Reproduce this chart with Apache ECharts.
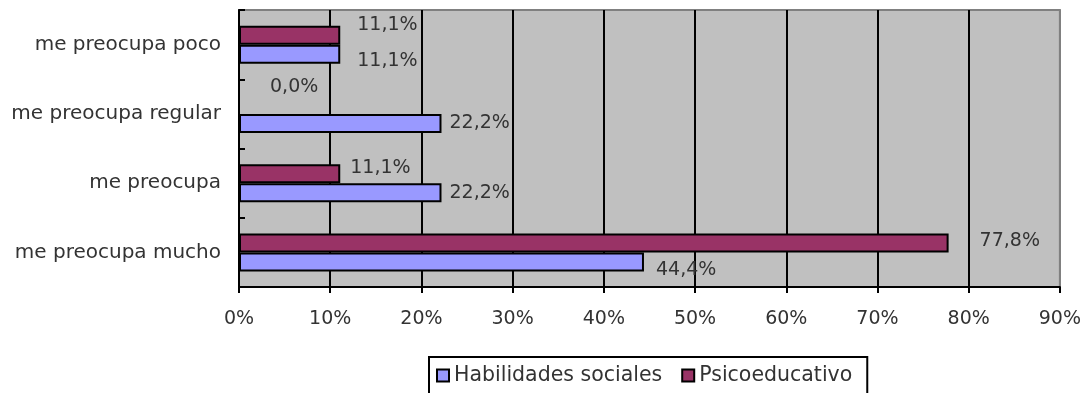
<!DOCTYPE html>
<html>
<head>
<meta charset="utf-8">
<script src="https://cdn.jsdelivr.net/npm/echarts@6/dist/echarts.min.js"></script>
<style>
html,body{margin:0;padding:0;background:#fff;}
#chart{width:1084px;height:393px;}
</style>
</head>
<body>
<div id="chart"></div>
<script>
// ---- data ----
const categories = ['me preocupa mucho', 'me preocupa', 'me preocupa regular', 'me preocupa poco'];
const habilidades = [44.4, 22.2, 22.2, 11.1];
const psicoeducativo = [77.8, 11.1, 0.0, 11.1];
const seriesNames = ['Habilidades sociales', 'Psicoeducativo'];
const xTicks = [0, 10, 20, 30, 40, 50, 60, 70, 80, 90];

// ---- label placement (style only) ----
const habLabelOffsets = [[12, 8], [8, 0], [8, 0], [17, 7]];
const psiLabelOffsets = [[31, -2], [10, -6], [30, -17], [17, -10]];

const FONT = 'DejaVu Sans';
const TXT = '#333333';
const fmt = v => v.toFixed(1).replace('.', ',') + '%';

function build(values, offsets) {
  return values.map((v, i) => ({
    value: v,
    label: { offset: offsets[i] }
  }));
}

const chart = echarts.init(document.getElementById('chart'));
const splitColors = xTicks.map((t, i) => i === xTicks.length - 1 ? '#808080' : '#000000');

const labelStyle = {
  show: true, position: 'right', distance: 0, formatter: p => fmt(p.value),
  color: TXT, fontFamily: FONT, fontSize: 19
};

chart.setOption({
  animation: false,
  grid: {
    left: 239, right: 23, top: 10, bottom: 106,
    show: true, backgroundColor: '#C0C0C0', borderColor: '#808080', borderWidth: 2
  },
  xAxis: {
    type: 'value', min: 0, max: 90, interval: 10,
    axisLine: { show: true, lineStyle: { color: '#000', width: 2 } },
    axisTick: { show: true, length: 6, lineStyle: { color: '#000', width: 2 } },
    axisLabel: {
      formatter: v => v + '%', color: TXT, fontFamily: FONT, fontSize: 19, margin: 23
    },
    splitLine: { show: true, lineStyle: { color: splitColors, width: 2 } }
  },
  yAxis: {
    type: 'category', data: categories,
    axisLine: { show: true, lineStyle: { color: '#000', width: 2 } },
    axisTick: { show: true, inside: true, length: 6, lineStyle: { color: '#000', width: 2 } },
    axisLabel: { color: TXT, fontFamily: FONT, fontSize: 20, margin: 18 }
  },
  legend: {
    left: 429, top: 357,
    data: seriesNames,
    icon: 'rect', itemWidth: 12, itemHeight: 12, itemGap: 19,
    borderColor: '#000', borderWidth: 2, padding: [8, 15, 12, 7],
    textStyle: { color: TXT, fontFamily: FONT, fontSize: 20.5 }
  },
  series: [
    {
      name: seriesNames[1], type: 'bar', data: build(psicoeducativo, psiLabelOffsets),
      barWidth: 19, barGap: '0%',
      itemStyle: { color: '#993366', borderColor: '#000', borderWidth: 2 },
      label: labelStyle
    },
    {
      name: seriesNames[0], type: 'bar', data: build(habilidades, habLabelOffsets),
      barWidth: 19, barGap: '0%',
      itemStyle: { color: '#9999FF', borderColor: '#000', borderWidth: 2 },
      label: labelStyle
    }
  ]
});
</script>
</body>
</html>
